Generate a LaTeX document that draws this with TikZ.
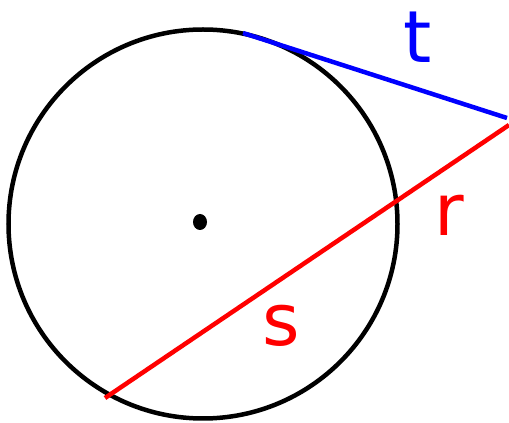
\documentclass[tikz,border=0pt]{standalone}
\usepackage{fontspec}
\setmainfont{DejaVu Sans}
\definecolor{myblue}{RGB}{0,0,255}
\definecolor{myred}{RGB}{255,0,0}
\begin{document}
\begin{tikzpicture}[x=1pt,y=1pt,
  seg/.style={line width=4.5pt},
  lbl/.style={inner sep=0pt,font=\fontsize{72}{72}\selectfont}]
\useasboundingbox (0,0) rectangle (509,423);
\coordinate (O) at (203,199);
\draw[line width=4.5pt] (O) circle (194.5);
\fill (200,201) ellipse (7 and 8);
\coordinate (T1) at (243,390);
\coordinate (P1) at (507,305);
\coordinate (R1) at (509,298);
\coordinate (R2) at (105,25);
\draw[seg,myblue] (T1) -- (P1);
\draw[seg,myred] (R1) -- (R2);
\node[lbl,myblue] (t) at (418,386) {t};
\node[lbl,myred] (r) at (449,208) {r};
\node[lbl,myred] (s) at (281,97) {s};
\end{tikzpicture}
\end{document}
